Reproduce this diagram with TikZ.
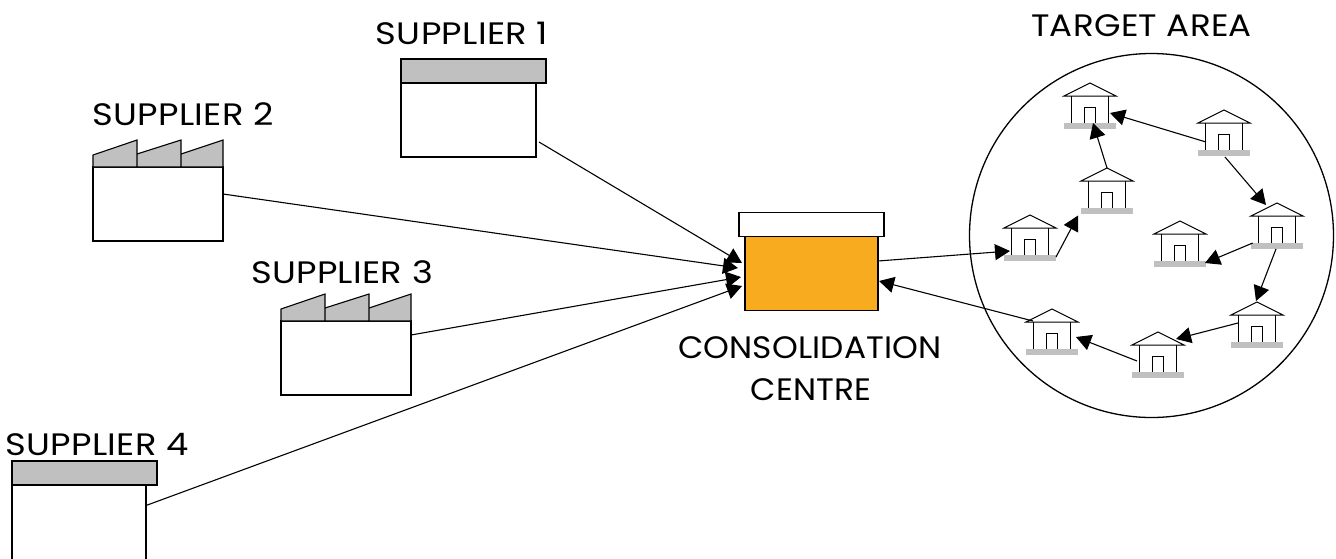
\documentclass[tikz,border=0pt]{standalone}
\usepackage{fontspec}
\setmainfont[FakeStretch=1.14,LetterSpace=1]{Poppins}
\newfontfamily\midfont[FakeStretch=1.1,LetterSpace=1]{Poppins}
\newfontfamily\narrowfont[FakeStretch=1.06,LetterSpace=0.5]{Poppins}
\usetikzlibrary{arrows.meta,calc}
\definecolor{roofgrey}{HTML}{C0C0C0}
\definecolor{ccorange}{HTML}{F9AB1F}
\tikzset{
  box/.style={draw=black,line width=1.1pt,fill=white,inner sep=0pt,outer sep=0pt},
  greybar/.style={box,fill=roofgrey},
  conn/.style={line width=1.1pt,-{Triangle[length=15pt,width=16pt]}},
  label/.style={inner sep=0pt,font=\fontsize{31}{33}\selectfont,align=center},
  thin house/.style={line width=1pt},
}
\newcommand{\house}[3]{%
  \fill[roofgrey] (#2-26,#3+13.5) rectangle (#2+26,#3+19.5);
  \draw[thin house,fill=white] (#2-26,#3-13.5) -- (#2,#3-26.5) -- (#2+26,#3-13.5) -- cycle;
  \draw[thin house] (#2-18.5,#3+13.5) -- (#2-18.5,#3-13.5) (#2+18.5,#3-13.5) -- (#2+18.5,#3+13.5);
  \draw[thin house] (#2-5.5,#3+13.5) -- (#2-5.5,#3-2) -- (#2+5.5,#3-2) -- (#2+5.5,#3+13.5);
  \coordinate (#1) at (#2,#3);
}
\newcommand{\factory}[3]{%
  \node[box,minimum width=130pt,minimum height=74pt] (#1) at (#2,#3) {};
  \draw[greybar,line join=miter]
    (#2-65,#3-37) -- (#2-65,#3-49) -- (#2-21,#3-64) -- (#2-21,#3-50) -- (#2+23,#3-64)
    -- (#2+23,#3-50) -- (#2+65,#3-64) -- (#2+65,#3-37) -- cycle
    (#2-21,#3-50) -- (#2-21,#3-37) (#2+23,#3-50) -- (#2+23,#3-37);
}
\begin{document}
\begin{tikzpicture}[x=1pt,y=-1pt]
\useasboundingbox (0,0) rectangle (1336,558);
\begin{scope}
\clip (0,0) rectangle (1336,558);
% suppliers
\node[greybar,minimum width=145pt,minimum height=24pt] (s1top) at (473.5,71) {};
\node[box,minimum width=135pt,minimum height=74pt] (s1) at (468.5,120) {};
\factory{s2}{158}{204}
\factory{s3}{346}{358}
\node[greybar,minimum width=145pt,minimum height=24pt] (s4top) at (84.5,473) {};
\node[box,minimum width=134pt,minimum height=110pt] (s4) at (79,540) {};
% consolidation centre
\node[box,minimum width=145pt,minimum height=24pt] (cctop) at (811.5,224.5) {};
\node[box,fill=ccorange,minimum width=133pt,minimum height=74pt] (cc) at (811.5,273.5) {};
% target area
\node[draw=black,line width=1.3pt,circle,minimum size=364pt,inner sep=0pt] (area) at (1151.5,235.5) {};
\house{A}{1090}{109.5}
\house{B}{1224}{136.5}
\house{C}{1107}{194.5}
\house{D}{1030}{241.5}
\house{E}{1277}{229.5}
\house{F}{1180}{247.5}
\house{G}{1257}{328.5}
\house{H}{1158}{358.5}
\house{I}{1052}{335.5}
% connectors
\draw[conn] ($(s1)+(70.5,22)$) -- ($(cc)+(-69.5,-10.5)$);
\draw[conn] ($(s2)+(65,-10)$) -- ($(cc)+(-73.5,-5.5)$);
\draw[conn] ($(s3)+(65,-23)$) -- ($(cc)+(-70.5,3.5)$);
\draw[conn] ($(s4)+(67,-34.5)$) -- ($(cc)+(-69.5,12.5)$);
\draw[conn] ($(cc)+(66.5,-12.5)$) -- ($(D)+(-20,9.5)$);
\draw[conn] ($(I)+(-19,-14.5)$) -- ($(cc)+(67.5,7.5)$);
\draw[conn] ($(D)+(26,15.5)$) -- ($(C)+(-29,21)$);
\draw[conn] ($(C)+(0,-26.5)$) -- ($(A)+(3,13.5)$);
\draw[conn] ($(B)+(-18,5.5)$) -- ($(A)+(20,3.5)$);
\draw[conn] ($(B)+(1,20.5)$) -- ($(E)+(-11,-24.5)$);
\draw[conn] ($(E)+(-24.3,13.5)$) -- ($(F)+(25,15.5)$);
\draw[conn] ($(E)+(-1,19.5)$) -- ($(G)+(-1,-27.5)$);
\draw[conn] ($(G)+(-19,-5.5)$) -- ($(H)+(18,-19.5)$);
\draw[conn] ($(H)+(-21,2.5)$) -- ($(I)+(24,1.5)$);
% labels
\node[label] (l1) at (462,33) {SUPPLIER 1};
\node[label] (l2) at (183,114) {SUPPLIER 2};
\node[label] (l3) at (342,272) {SUPPLIER 3};
\node[label] (l4) at (97,444) {SUPPLIER 4};
\node[label] (l5) at (1141.5,26) {\midfont TARGET AREA};
\node[label] (l6) at (810,348) {\narrowfont CONSOLIDATION};
\node[label] (l7) at (811,390) {\narrowfont CENTRE};
\end{scope}
\end{tikzpicture}
\end{document}
